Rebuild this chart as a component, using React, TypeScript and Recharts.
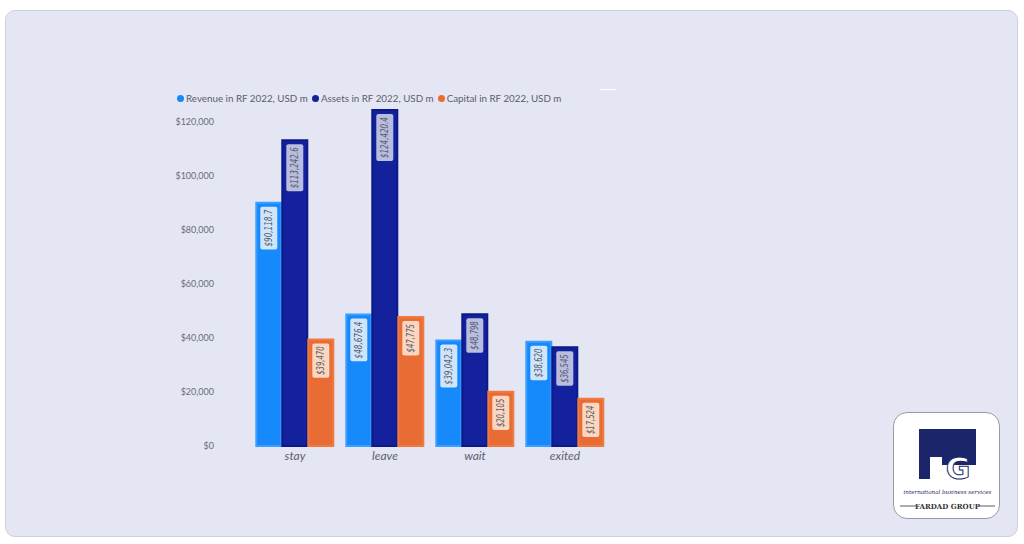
import React from "react";
import { BarChart, Bar, XAxis, YAxis, LabelList } from "recharts";

const categories = ["stay", "leave", "wait", "exited"];
const revenue = [90118.7, 48676.4, 39042.3, 38620];
const assets = [113242.6, 124420.4, 48798, 36545];
const capital = [39470, 47775, 20105, 17524];
const yTicks = [0, 20000, 40000, 60000, 80000, 100000, 120000];
const seriesNames = ["Revenue in RF 2022, USD m", "Assets in RF 2022, USD m", "Capital in RF 2022, USD m"];

const data = categories.map((c, i) => ({
  name: c,
  revenue: revenue[i],
  assets: assets[i],
  capital: capital[i],
}));

const COLORS = {
  revenue: { fill: "#1689fb", stroke: "#3a9dff", box: "#cfe5fb" },
  assets: { fill: "#13229c", stroke: "#0c1a88", box: "#b9bde0" },
  capital: { fill: "#e86c34", stroke: "#ef7b43", box: "#fbd6c1" },
};

const FONT = "Lato, 'Open Sans', sans-serif";
const LABEL_FONT = "'Liberation Sans Narrow', 'DejaVu Sans Condensed', 'Roboto Condensed', sans-serif";

const fmtMoney = (v: number) =>
  "$" + v.toLocaleString("en-US", { maximumFractionDigits: 1 });

const makeLabel = (boxColor: string) => (props: any) => {
  const { x, y, width, value } = props;
  const text = fmtMoney(Number(value));
  const fs = 10;
  const len = text.length * 4.2 + 5;
  const bw = Math.max(width - 8, 10);
  const bx = x + (width - bw) / 2;
  const by = y + 4;
  const cx = x + width / 2;
  const cy = by + len / 2;
  return (
    <g>
      <rect x={bx} y={by} width={bw} height={len} rx={2} fill={boxColor} />
      <text
        x={cx}
        y={cy}
        transform={`rotate(-90 ${cx} ${cy})`}
        textAnchor="middle"
        dominantBaseline="central"
        fontFamily={LABEL_FONT}
        fontStyle="italic"
        fontSize={fs}
        fill="#555a66"
        textLength={len - 6}
        lengthAdjust="spacingAndGlyphs"
      >
        {text}
      </text>
    </g>
  );
};

const legendColors = [COLORS.revenue.fill, COLORS.assets.fill, COLORS.capital.fill];

const LegendBox = () => (
  <div
    style={{
      position: "absolute",
      left: 177,
      top: 92,
      display: "flex",
      alignItems: "center",
      fontFamily: FONT,
      fontSize: 9.8,
      color: "#5a5d6a",
      whiteSpace: "nowrap",
    }}
  >
    {seriesNames.map((n, i) => (
      <span key={n} style={{ display: "flex", alignItems: "center", marginRight: 4 }}>
        <span style={{ width: 7, height: 7, borderRadius: 4, background: legendColors[i], display: "inline-block", marginRight: 2 }} />
        {n}
      </span>
    ))}
  </div>
);

const Logo = () => (
  <div
    style={{
      position: "absolute",
      left: 893,
      top: 412,
      width: 107,
      height: 107,
      background: "#ffffff",
      border: "1px solid #9a9aa6",
      borderRadius: 14,
      boxSizing: "border-box",
      overflow: "hidden",
    }}
  >
    <svg width={107} height={107} style={{ position: "absolute", left: 0, top: 0 }}>
      <rect x={25} y={16} width={11} height={50} fill="#1b2569" />
      <rect x={36} y={16} width={46} height={36} fill="#1b2569" />
      <rect x={36} y={44} width={12} height={10} fill="#ffffff" />
      <text x={64} y={66} textAnchor="middle" fontFamily="'DejaVu Sans', sans-serif" fontWeight="bold" fontSize={30} fill="#ffffff" stroke="#1b2569" strokeWidth={1}>
        G
      </text>
      <text x={53.5} y={81} textAnchor="middle" fontFamily="'DejaVu Serif', serif" fontStyle="italic" fontSize={5.6} fill="#1b2569">
        international business services
      </text>
      <line x1={6} y1={93} x2={22} y2={93} stroke="#333" strokeWidth={0.8} />
      <line x1={85} y1={93} x2={101} y2={93} stroke="#333" strokeWidth={0.8} />
      <text x={53.5} y={96} textAnchor="middle" fontFamily="'DejaVu Serif', serif" fontWeight="bold" fontSize={7} fill="#333">
        FARDAD GROUP
      </text>
    </svg>
  </div>
);

export default function App() {
  return (
    <div style={{ position: "absolute", left: 0, top: 0, width: 1024, height: 544, background: "#ffffff" }}>
      <div
        style={{
          position: "absolute",
          left: 5,
          top: 10,
          width: 1013,
          height: 527,
          background: "#e4e6f4",
          border: "1px solid #cdcfdc",
          borderRadius: 10,
          boxSizing: "border-box",
        }}
      />
      <div style={{ position: "absolute", left: 0, top: 0 }}>
        <BarChart
          width={1024}
          height={544}
          data={data}
          margin={{ top: 95, right: 414, bottom: 68, left: 150 }}
          barGap={1}
          barCategoryGap="7%"
        >
          <XAxis
            dataKey="name"
            axisLine={false}
            tickLine={false}
            tickSize={0}
            tickMargin={5}
            height={30}
            tick={{ fontFamily: FONT, fontSize: 12, fontStyle: "italic", fill: "#5e606c" }}
          />
          <YAxis
            domain={[0, 130000]}
            ticks={yTicks}
            axisLine={false}
            tickLine={false}
            tickSize={0}
            tickMargin={36}
            width={100}
            tickFormatter={(v: number) => fmtMoney(v)}
            tick={{ fontFamily: FONT, fontSize: 9, fill: "#6a6c78" }}
          />
          <Bar dataKey="revenue" name={seriesNames[0]} fill={COLORS.revenue.fill} stroke={COLORS.revenue.stroke} strokeWidth={2} isAnimationActive={false}>
            <LabelList dataKey="revenue" content={makeLabel(COLORS.revenue.box)} />
          </Bar>
          <Bar dataKey="assets" name={seriesNames[1]} fill={COLORS.assets.fill} stroke={COLORS.assets.stroke} strokeWidth={2} isAnimationActive={false}>
            <LabelList dataKey="assets" content={makeLabel(COLORS.assets.box)} />
          </Bar>
          <Bar dataKey="capital" name={seriesNames[2]} fill={COLORS.capital.fill} stroke={COLORS.capital.stroke} strokeWidth={2} isAnimationActive={false}>
            <LabelList dataKey="capital" content={makeLabel(COLORS.capital.box)} />
          </Bar>
        </BarChart>
      </div>
      <LegendBox />
      <div style={{ position: "absolute", left: 600, top: 89, width: 16, height: 1, background: "#ffffff" }} />
      <Logo />
    </div>
  );
}
